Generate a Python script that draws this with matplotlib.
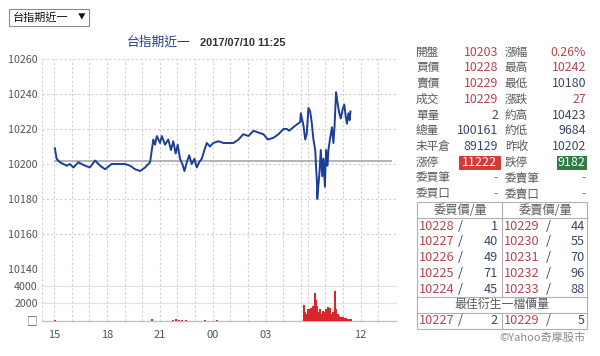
import matplotlib
matplotlib.use("Agg")
import matplotlib.pyplot as plt
from matplotlib.patches import Rectangle
from matplotlib.lines import Line2D

plt.rcParams['font.family'] = ['Noto Sans CJK TC', 'DejaVu Sans']

W, H = 600, 356

# night session 15:00 -> 05:00, day session 08:45 -> 13:45
night_times = ['15:03', '15:09', '15:20', '15:32', '15:43', '15:54', '16:06', '16:23', '16:34', '16:46',
               '17:02', '17:20', '17:37', '17:54', '18:16', '18:33', '19:02', '19:19', '19:36', '19:53',
               '20:10', '20:27', '20:33', '20:38', '20:44', '20:50', '21:01', '21:07', '21:18', '21:29',
               '21:38', '21:46', '21:54', '22:01', '22:09', '22:17', '22:24', '22:32', '22:40', '22:49',
               '22:58', '23:06', '23:14', '23:23', '23:32', '23:40', '23:51', '00:02', '00:20', '00:37',
               '00:53', '01:11', '01:28', '01:44', '02:02', '02:19', '02:35', '02:53', '03:08', '03:27',
               '03:44', '04:01', '04:13', '04:20', '04:42', '04:58', '05:00']
night_prices = [10209, 10203, 10201, 10200, 10199, 10200, 10198, 10201, 10200, 10199,
                10198, 10202, 10199, 10197, 10200, 10200, 10200, 10199, 10197, 10196,
                10198, 10201, 10208, 10214, 10211, 10216, 10212, 10216, 10211, 10214,
                10208, 10213, 10206, 10211, 10203, 10200, 10196, 10201, 10205, 10200,
                10203, 10198, 10201, 10203, 10208, 10212, 10210, 10212, 10213, 10212,
                10212, 10212, 10214, 10217, 10216, 10219, 10218, 10217, 10214, 10215,
                10217, 10220, 10220, 10219, 10222, 10224, 10229]
day_times = ['08:45', '08:51', '08:56', '09:02', '09:08', '09:13', '09:19', '09:25', '09:31', '09:32',
             '09:40', '09:44', '09:49', '09:53', '09:58', '10:02', '10:07', '10:10', '10:16', '10:22',
             '10:27', '10:31', '10:36', '10:41', '10:47', '10:52', '10:58', '11:04', '11:09', '11:13',
             '11:18', '11:22', '11:25']
day_prices = [10222, 10214, 10217, 10232, 10230, 10224, 10214, 10208, 10189, 10180,
              10196, 10208, 10193, 10203, 10187, 10208, 10199, 10208, 10215, 10221,
              10212, 10222, 10241, 10235, 10229, 10226, 10231, 10234, 10227, 10223,
              10229, 10225, 10230]

vol_night_times = ['15:03', '20:33', '21:45', '21:55', '22:05', '22:15', '22:30', '23:35', '00:15']
vol_night = [60, 200, 120, 150, 100, 130, 100, 100, 80]
vol_day_times = ['08:46', '08:49', '08:55', '09:00', '09:06', '09:12', '09:17', '09:23', '09:25', '09:29',
                 '09:32', '09:37', '09:40', '09:46', '09:51', '09:57', '10:03', '10:08', '10:12', '10:16',
                 '10:21', '10:25', '10:28', '10:33', '10:36', '10:42', '10:47', '10:53', '10:59', '11:04',
                 '11:10', '11:16', '11:21', '11:25']
vol_day = [1800, 1000, 800, 1400, 1300, 1500, 1700, 2000, 3200, 2400,
           1700, 1000, 1300, 800, 1100, 1000, 1300, 1600, 1100, 1500,
           800, 1000, 700, 3500, 1300, 800, 600, 400, 400, 300,
           350, 250, 250, 150]

prev_close = 10202
price_ticks = [10140, 10160, 10180, 10200, 10220, 10240, 10260]
vol_ticks = [0, 2000, 4000]
vol_tick_labels = ['□', '2000', '4000']
xtick_night = ['15:00', '18:00', '21:00', '00:00', '03:00']
xtick_day = ['12:00']
xtick_labels = ['15', '18', '21', '00', '03', '12']

title_name = '台指期近一'
title_time = '2017/07/10 11:25'

left_labels = ['開盤', '買價', '賣價', '成交', '單量', '總量', '未平倉', '漲停', '委買筆', '委買口']
left_values = ['10203', '10228', '10229', '10229', '2', '100161', '89129', '11222', '-', '-']
left_kind = ['r', 'r', 'r', 'r', 'b', 'b', 'b', 'up', '-', '-']
right_labels = ['漲幅', '最高', '最低', '漲跌', '約高', '約低', '昨收', '跌停', '委賣筆', '委賣口']
right_values = ['0.26%', '10242', '10180', '27', '10423', '9684', '10202', '9182', '-', '-']
right_kind = ['r', 'r', 'b', 'r', 'b', 'b', 'b', 'down', '-', '-']

bid_prices = ['10228', '10227', '10226', '10225', '10224']
bid_qty = ['1', '40', '49', '71', '45']
ask_prices = ['10229', '10230', '10231', '10232', '10233']
ask_qty = ['44', '55', '70', '96', '88']
best_bid = ('10227', '2')
best_ask = ('10229', '5')

NIGHT_HOURS = 14.0
GAP = 0.15


def hours(s):
    h, m = s.split(':')
    return int(h) + int(m) / 60.0


def night_pos(s):
    return (hours(s) - 15) % 24


def day_pos(s):
    return NIGHT_HOURS + GAP + hours(s) - 8.75


def fx(x):
    return x / W


def fy(y):
    return 1 - y / H


RED = '#b4474e'
BLUE = '#3a4868'
LBL = '#5a5a5a'
LINE = '#1d3f95'

fig = plt.figure(figsize=(6, 3.56), dpi=100)

ax = fig.add_axes([fx(42), fy(269), 354 / W, 210 / H])
axv = fig.add_axes([fx(42), fy(320.7), 354 / W, 51.7 / H])

xmin, xmax = -0.68, day_pos('14:00')
gridx = [float(i) for i in range(15)] + [day_pos('%02d:00' % h) for h in range(9, 15)]

for a in (ax, axv):
    a.set_xlim(xmin, xmax)
    for s in a.spines.values():
        s.set_visible(False)
    for g in gridx + [xmin]:
        a.axvline(g, color='#cfcfcf', lw=0.8, ls=(0, (2, 2)), zorder=0)

# price panel
xs = [night_pos(t) for t in night_times] + [day_pos(t) for t in day_times]
ys = night_prices + day_prices
ax.hlines(prev_close, 0, 19.2, color='#a8a8a8', lw=1.2, zorder=1)
ax.plot(xs, ys, color=LINE, lw=1.4, zorder=2)
ax.set_ylim(10140, 10260)
ax.set_yticks(price_ticks)
ax.set_xticks([])
for p in price_ticks:
    ax.axhline(p, color='#cfcfcf', lw=0.8, ls=(0, (2, 2)), zorder=0, clip_on=False)
ax.tick_params(axis='y', length=0, labelsize=7.7, labelcolor='#555555', pad=3)

# volume panel
vx = [night_pos(t) for t in vol_night_times] + [day_pos(t) for t in vol_day_times]
vv = vol_night + vol_day
axv.bar(vx, vv, width=0.12, color='#d8262c', linewidth=0, zorder=2)
axv.set_ylim(0, 6000)
axv.set_yticks(vol_ticks)
axv.set_yticklabels(vol_tick_labels)
for v in vol_ticks:
    axv.axhline(v, color='#bdbdbd' if v == 0 else '#e2e2e2', lw=0.9, zorder=0, clip_on=False)
axv.set_xticks([night_pos(t) for t in xtick_night] + [day_pos(t) for t in xtick_day])
axv.set_xticklabels(xtick_labels)
axv.tick_params(axis='y', length=0, labelsize=7.7, labelcolor='#555555', pad=3)
axv.tick_params(axis='x', length=0, labelsize=8, labelcolor='#555555', pad=7)

# dropdown and title
fig.add_artist(Rectangle((fx(9), fy(26)), 80 / W, 17 / H, transform=fig.transFigure,
                         facecolor='white', edgecolor='#8a8a8a', lw=0.8))
fig.text(fx(13), fy(17.5), title_name, fontsize=8, color='#111111', va='center', ha='left')
fig.text(fx(78), fy(17.5), '▼', fontsize=5.5, color='#111111', va='center', ha='left')
fig.text(fx(190), fy(42.5), title_name, fontsize=9.2, color='#23408e', va='center', ha='right')
fig.text(fx(200), fy(43.5), title_time, fontsize=7.9, color='#333333', va='center', ha='left',
         family='Liberation Sans', fontweight='bold')

# quote table
row_y = [52 + 15.75 * i for i in range(10)]


def value_text(x, y, s, kind, box):
    if kind in ('up', 'down'):
        x0, x1 = box
        col = '#d23b3b' if kind == 'up' else '#2f7c44'
        fig.add_artist(Rectangle((fx(x0), fy(169.5)), (x1 - x0) / W, 13.5 / H,
                                 transform=fig.transFigure, facecolor=col, edgecolor='none'))
        fig.text(fx(x - 1), fy(y), s, fontsize=9, color='white', ha='right', va='center')
    else:
        col = {'r': RED, 'b': BLUE, '-': '#777777'}[kind]
        fig.text(fx(x), fy(y), s, fontsize=8.9, color=col, ha='right', va='center')


for i, y in enumerate(row_y):
    fig.text(fx(416), fy(y), left_labels[i], fontsize=8.4, color=LBL, ha='left', va='center')
    value_text(498, y, left_values[i], left_kind[i], (459.3, 500.7))
    fig.text(fx(505), fy(y), right_labels[i], fontsize=8.4, color=LBL, ha='left', va='center')
    value_text(586, y, right_values[i], right_kind[i], (556.7, 587.3))

# order book
tl, tm, tr = 417.3, 501.7, 586.7
top, bot = 201.7, 329.3
lk = dict(transform=fig.transFigure, color='#b0b0b0', lw=0.8)
fig.add_artist(Rectangle((fx(tl), fy(bot)), (tr - tl) / W, (bot - top) / H, transform=fig.transFigure,
                         facecolor='none', edgecolor='#b0b0b0', lw=0.8))
for yy in (218.3, 296.7, 312.7):
    fig.add_artist(Line2D([fx(tl), fx(tr)], [fy(yy), fy(yy)], **lk))
fig.add_artist(Line2D([fx(tm), fx(tm)], [fy(top), fy(296.7)], **lk))
fig.add_artist(Line2D([fx(tm), fx(tm)], [fy(312.7), fy(bot)], **lk))

fig.text(fx(460), fy(210.3), '委買價/量', fontsize=8.8, color=LBL, ha='center', va='center')
fig.text(fx(545), fy(210.3), '委賣價/量', fontsize=8.8, color=LBL, ha='center', va='center')


def book_row(y, bp, bq, ap, aq):
    fig.text(fx(419), fy(y), bp, fontsize=9.2, color=RED, ha='left', va='center')
    fig.text(fx(460), fy(y), '/', fontsize=9.2, color=BLUE, ha='center', va='center')
    fig.text(fx(498), fy(y), bq, fontsize=9.2, color=BLUE, ha='right', va='center')
    fig.text(fx(503.5), fy(y), ap, fontsize=9.2, color=RED, ha='left', va='center')
    fig.text(fx(548), fy(y), '/', fontsize=9.2, color=BLUE, ha='center', va='center')
    fig.text(fx(585), fy(y), aq, fontsize=9.2, color=BLUE, ha='right', va='center')


for i in range(5):
    book_row(226 + 15.8 * i, bid_prices[i], bid_qty[i], ask_prices[i], ask_qty[i])
fig.text(fx(502), fy(304.7), '最佳衍生一檔價量', fontsize=8.6, color=LBL, ha='center', va='center')
book_row(320.5, best_bid[0], best_bid[1], best_ask[0], best_ask[1])

fig.text(fx(586), fy(337.5), '©Yahoo奇摩股市', fontsize=8, color='#8a8a8a', ha='right', va='center')

fig.savefig('out.png', dpi=100)
